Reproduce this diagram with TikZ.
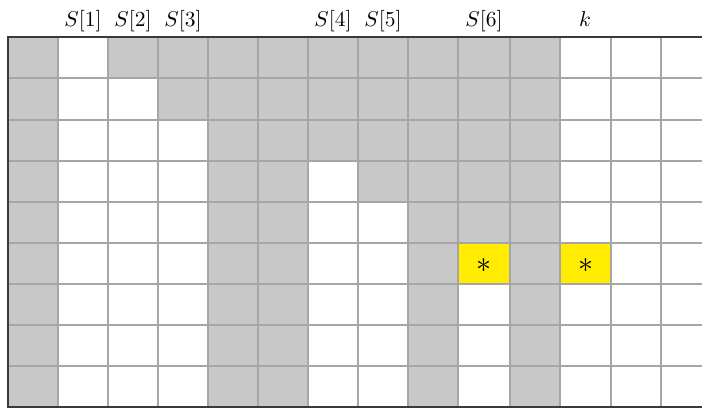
\documentclass[tikz,border=0pt]{standalone}
\usepackage{tikz}
\definecolor{cellgray}{HTML}{C8C8C8}
\definecolor{gridgray}{HTML}{A6A6A6}
\definecolor{hiyellow}{HTML}{FFEC00}
\definecolor{borderdark}{HTML}{3A3A3A}
\begin{document}
\begin{tikzpicture}[x=1pt,y=-1pt,
  graycell/.style={fill=cellgray,draw=none},
  yellowcell/.style={fill=hiyellow,draw=none},
  gridline/.style={draw=gridgray,line width=1.8pt},
  borderline/.style={draw=borderdark,line width=2.4pt},
  toplabel/.style={scale=2.15,anchor=base,inner sep=0pt},
  starmark/.style={scale=3.0,inner sep=0pt}]
% column edges x0..x14 and row edges y0..y9
\def\colx{{8,58,108,158,208,258,308,358,408,458,510,560,611,661,711}}
\def\rowy{{37,78,120,161,202,243,284,325,366,407}}
\useasboundingbox (0,0) rectangle (702,409);
% full gray columns
\foreach \c in {0,4,5,8,10}{
  \pgfmathsetmacro\xa{\colx[\c]}\pgfmathsetmacro\xb{\colx[\c+1]}
  \fill[graycell] (\xa,37) rectangle (\xb,407);
}
% partial gray columns: column/number of gray rows
\foreach \c/\n in {2/1,3/2,6/3,7/4,9/5}{
  \pgfmathsetmacro\xa{\colx[\c]}\pgfmathsetmacro\xb{\colx[\c+1]}
  \pgfmathsetmacro\yb{\rowy[\n]}
  \fill[graycell] (\xa,37) rectangle (\xb,\yb);
}
% yellow cells
\fill[yellowcell] (458,243) rectangle (510,284);
\fill[yellowcell] (560,243) rectangle (611,284);
\node[starmark] (star1) at (484,266) {$\ast$};
\node[starmark] (star2) at (585.5,266) {$\ast$};
% grid lines
\foreach \i in {1,...,13}{
  \pgfmathsetmacro\xa{\colx[\i]}
  \draw[gridline] (\xa,37) -- (\xa,407);
}
\foreach \j in {1,...,8}{
  \pgfmathsetmacro\ya{\rowy[\j]}
  \draw[gridline] (8,\ya) -- (702,\ya);
}
% border
\draw[borderline] (702,37) -- (8,37) -- (8,407) -- (702,407);
% labels
\node[toplabel] (s1) at (83,27) {$S[1]$};
\node[toplabel] (s2) at (133,27) {$S[2]$};
\node[toplabel] (s3) at (183,27) {$S[3]$};
\node[toplabel] (s4) at (333,27) {$S[4]$};
\node[toplabel] (s5) at (383,27) {$S[5]$};
\node[toplabel] (s6) at (484,27) {$S[6]$};
\node[toplabel] (kk) at (585,27) {$k$};
\end{tikzpicture}
\end{document}
